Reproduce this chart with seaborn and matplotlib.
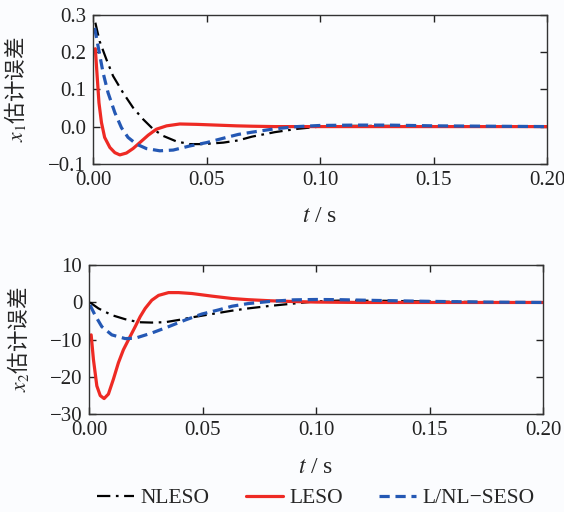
import matplotlib

matplotlib.use("Agg")

import matplotlib.pyplot as plt
import seaborn as sns

# x1 estimation error (top panel)
t_nleso_1 = [0.001, 0.0029, 0.0059, 0.0088, 0.0132, 0.0176, 0.022, 0.0265, 0.0309, 0.0368,
             0.0426, 0.0485, 0.0574, 0.064, 0.070, 0.080, 0.090, 0.100, 0.115, 0.130, 0.150, 0.175, 0.200]
e_nleso_1 = [0.279, 0.229, 0.180, 0.136, 0.091, 0.051, 0.020, -0.007, -0.025, -0.040,
             -0.047, -0.047, -0.043, -0.037, -0.027, -0.015, -0.006, 0.000, 0.002, 0.002, 0.001, 0.0, 0.0]

t_leso_1 = [0.001, 0.0018, 0.0026, 0.0037, 0.0051, 0.0074, 0.0096, 0.0118, 0.0147, 0.0176,
            0.0206, 0.0243, 0.0279, 0.0324, 0.0382, 0.0456, 0.0544, 0.0632, 0.070, 0.080, 0.100, 0.150, 0.200]
e_leso_1 = [0.209, 0.136, 0.064, 0.011, -0.029, -0.056, -0.070, -0.076, -0.071, -0.059,
            -0.043, -0.023, -0.007, 0.002, 0.007, 0.006, 0.004, 0.002, 0.001, 0.0, 0.0, 0.0, 0.0]

t_seso_1 = [0.0007, 0.0022, 0.0044, 0.0066, 0.0096, 0.0125, 0.0154, 0.0191, 0.0235, 0.0294,
            0.0353, 0.0426, 0.050, 0.0588, 0.064, 0.070, 0.080, 0.090, 0.100, 0.115, 0.130, 0.150, 0.175, 0.200]
e_seso_1 = [0.265, 0.216, 0.145, 0.091, 0.0375, -0.003, -0.029, -0.047, -0.059, -0.065,
            -0.063, -0.052, -0.043, -0.029, -0.021, -0.015, -0.006, 0.000, 0.003, 0.004, 0.004, 0.002, 0.001, 0.0]

# x2 estimation error (bottom panel)
t_nleso_2 = [0.0004, 0.0041, 0.010, 0.0159, 0.0218, 0.0276, 0.0335, 0.0394, 0.0453, 0.0541,
             0.063, 0.070, 0.080, 0.090, 0.100, 0.110, 0.130, 0.150, 0.175, 0.200]
e_nleso_2 = [0.0, -1.6, -3.4, -4.5, -5.3, -5.4, -5.3, -4.7, -4.0, -3.1,
             -2.2, -1.6, -0.9, -0.3, 0.3, 0.5, 0.45, 0.25, 0.1, 0.0]

t_leso_2 = [0.0009, 0.0019, 0.0034, 0.0049, 0.0066, 0.0085, 0.0107, 0.0129, 0.0151, 0.0181,
            0.0203, 0.0225, 0.0247, 0.0276, 0.0306, 0.035, 0.0394, 0.0453, 0.0541, 0.063,
            0.070, 0.080, 0.090, 0.100, 0.120, 0.150, 0.200]
e_leso_2 = [-8.7, -15.3, -22.4, -25.0, -25.8, -24.6, -20.6, -16.2, -12.7, -9.1,
            -6.5, -3.8, -1.6, 0.6, 1.9, 2.65, 2.65, 2.4, 1.7, 1.06,
            0.75, 0.45, 0.25, 0.1, 0.0, 0.0, 0.0]

t_seso_2 = [0.0004, 0.0026, 0.0056, 0.010, 0.0159, 0.0203, 0.0276, 0.035, 0.0424, 0.0497,
            0.057, 0.063, 0.070, 0.080, 0.090, 0.100, 0.110, 0.130, 0.150, 0.175, 0.200]
e_seso_2 = [-0.7, -3.4, -6.5, -8.7, -9.7, -9.6, -8.2, -6.5, -4.7, -3.1,
            -2.0, -1.0, -0.3, 0.3, 0.7, 0.8, 0.75, 0.5, 0.3, 0.1, 0.0]

labels = ["NLESO", "LESO", "L/NL\u2212SESO"]
x_ticks = [0.00, 0.05, 0.10, 0.15, 0.20]
y1_ticks = [-0.1, 0.0, 0.1, 0.2, 0.3]
y1_ticklabels = ["\u22120.1", "0.0", "0.1", "0.2", "0.3"]
y2_ticks = [-30, -20, -10, 0, 10]
y2_ticklabels = ["\u221230", "\u221220", "\u221210", "0", "10"]

bg = "#fbfcfe"
sns.set_theme(style="ticks")
plt.rcParams["font.family"] = ["Liberation Serif", "Noto Sans CJK SC"]
plt.rcParams["mathtext.fontset"] = "stix"

fig = plt.figure(figsize=(5.64, 5.12), dpi=100, facecolor=bg)
ax1 = fig.add_axes([0.165, 0.680, 0.805, 0.291])
ax2 = fig.add_axes([0.158, 0.191, 0.805, 0.291])

styles = [
    dict(color="black", linestyle="-.", linewidth=1.6, dashes=(6, 2.5, 1.2, 2.5)),
    dict(color="#ee2a24", linestyle="-", linewidth=2.3),
    dict(color="#2458b4", linestyle="--", linewidth=2.3, dashes=(3.2, 1.8)),
]

panels = [
    (ax1, [(t_nleso_1, e_nleso_1), (t_leso_1, e_leso_1), (t_seso_1, e_seso_1)],
     y1_ticks, y1_ticklabels, (-0.1, 0.3), "$x_1$估计误差", -0.143),
    (ax2, [(t_nleso_2, e_nleso_2), (t_leso_2, e_leso_2), (t_seso_2, e_seso_2)],
     y2_ticks, y2_ticklabels, (-30, 10), "$x_2$估计误差", -0.128),
]

for ax, series, yticks, yticklabels, ylim, ylabel, label_x in panels:
    ax.set_facecolor(bg)
    for (t, e), style, name in zip(series, styles, labels):
        style = dict(style)
        dashes = style.pop("dashes", None)
        sns.lineplot(x=t, y=e, ax=ax, label=name, legend=False, **style)
        if dashes is not None:
            ax.lines[-1].set_dashes(dashes)
    ax.set_xlim(0, 0.2)
    ax.set_ylim(*ylim)
    ax.set_xticks(x_ticks)
    ax.set_xticklabels([f"{v:.2f}" for v in x_ticks])
    ax.set_yticks(yticks)
    ax.set_yticklabels(yticklabels)
    ax.tick_params(direction="in", top=True, right=True, length=5, width=1,
                   labelsize=15, colors="#222222", pad=5)
    for spine in ax.spines.values():
        spine.set_color("#333333")
        spine.set_linewidth(1.0)
    ax.set_xlabel("$t$ / s", fontsize=17, labelpad=12)
    ax.set_ylabel(ylabel, fontsize=15.5, family=["Noto Sans CJK SC"])
    ax.yaxis.set_label_coords(label_x, 0.5)

handles = ax1.lines[:3]
fig.legend(handles, labels, loc="center", bbox_to_anchor=(0.56, 0.027), ncol=3,
           frameon=False, fontsize=15.5, handlelength=1.7, handletextpad=0.3, columnspacing=1.7)

fig.savefig("out.png", dpi=100, facecolor=bg)
